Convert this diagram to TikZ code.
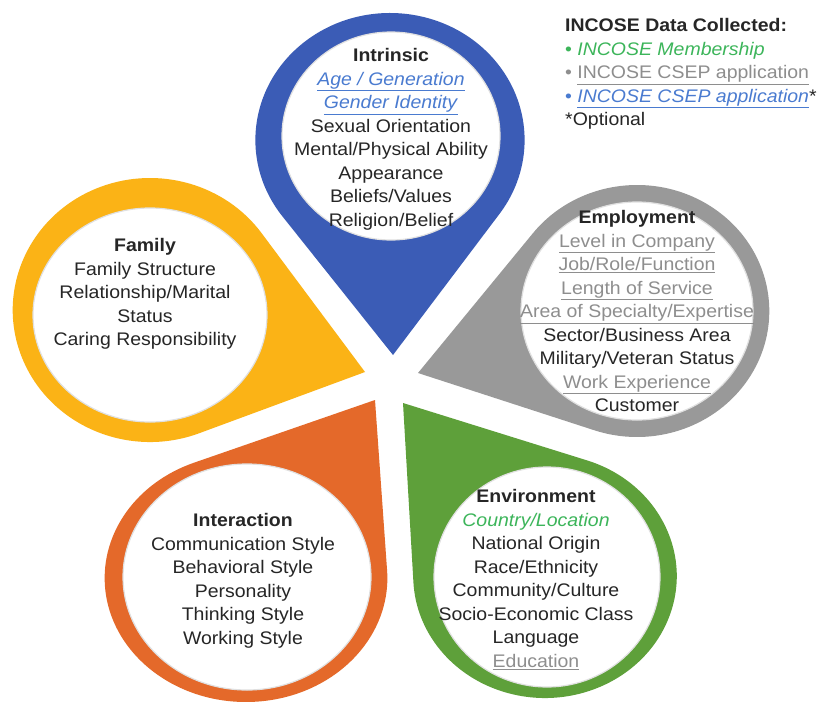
\documentclass[tikz,border=0pt]{standalone}
\usepackage{fontspec}
\setmainfont{Liberation Sans}[FakeStretch=1.07]
\definecolor{cblue}{HTML}{3B5CB6}
\definecolor{cgray}{HTML}{999999}
\definecolor{cyellow}{HTML}{FBB316}
\definecolor{corange}{HTML}{E4692A}
\definecolor{cgreen}{HTML}{5EA03A}
\definecolor{tblue}{HTML}{4A7BD0}
\definecolor{tgreen}{HTML}{3CB55A}
\definecolor{tgray}{HTML}{8E8E8E}
\definecolor{tdark}{HTML}{262626}
\newcommand\teardrop[7]{% color, cx, cy, Ry, xscale, tipx, tipy
  \begin{scope}[shift={(#2,#3)}, xscale=#5]
    \pgfmathsetmacro\tdx{(#6-#2)/#5}
    \pgfmathsetmacro\tdy{#7-#3}
    \pgfmathsetmacro\tth{atan2(\tdy,\tdx)}
    \pgfmathsetmacro\tdd{veclen(\tdx,\tdy)}
    \pgfmathsetmacro\tal{acos(#4/\tdd)}
    \pgfmathsetmacro\tsa{\tth+\tal}
    \pgfmathsetmacro\tea{\tth-\tal+360}
    \fill[#1] (\tdx,\tdy) -- (\tsa:#4) arc[start angle=\tsa, end angle=\tea, radius=#4] -- cycle;
  \end{scope}}
\newcommand\ul[1]{\underline{#1}}
\tikzset{
  blocktxt/.style={anchor=north, inner sep=0pt, align=center, text=tdark,
    font=\fontsize{18.2}{23.5}\selectfont},
  legendtxt/.style={anchor=north west, inner sep=0pt, align=left, text=tdark,
    font=\fontsize{18.2}{23.5}\selectfont},
  hole/.style={fill=white, draw=black!12, line width=1.2pt}
}
\begin{document}
\begin{tikzpicture}[x=1pt,y=-1pt]
\useasboundingbox (0,0) rectangle (832,704);
\fill[white] (0,0) rectangle (832,704);

% outer teardrops
\teardrop{cyellow}{150}{310}{132}{1.04}{365}{372}
\teardrop{corange}{246}{578}{124}{1.14}{375}{400}
\teardrop{cgreen}{545}{576}{122}{1.08}{403}{403}
\teardrop{cgray}{637}{311}{126}{1.05}{418}{373}
\teardrop{cblue}{390}{140}{127}{1.06}{393}{355}

% inner white holes
\path[hole] (391,136) ellipse [x radius=109, y radius=104];
\path[hole] (637,311) ellipse [x radius=116, y radius=109];
\path[hole] (150,315) ellipse [x radius=117, y radius=107];
\path[hole] (247,577) ellipse [x radius=124, y radius=113];
\path[hole] (547,577) ellipse [x radius=113, y radius=110];

% texts
\node[blocktxt] (intrinsic) at (391,48.5) {\textbf{Intrinsic}\\
  \textcolor{tblue}{\ul{\textit{Age / Generation}}}\\
  \textcolor{tblue}{\ul{\textit{Gender Identity}}}\\
  Sexual Orientation\\ Mental/Physical Ability\\ Appearance\\ Beliefs/Values\\ Religion/Belief};

\node[blocktxt] (employment) at (637,210.5) {\textbf{Employment}\\
  \textcolor{tgray}{\ul{Level in Company}}\\
  \textcolor{tgray}{\ul{Job/Role/Function}}\\
  \textcolor{tgray}{\ul{Length of Service}}\\
  \textcolor{tgray}{\ul{Area of Specialty/Expertise}}\\
  Sector/Business Area\\ Military/Veteran Status\\
  \textcolor{tgray}{\ul{Work Experience}}\\ Customer};

\node[blocktxt] (family) at (145,238.5) {\textbf{Family}\\ Family Structure\\
  Relationship/Marital\\ Status\\ Caring Responsibility};

\node[blocktxt] (interaction) at (243,513.5) {\textbf{Interaction}\\ Communication Style\\
  Behavioral Style\\ Personality\\ Thinking Style\\ Working Style};

\node[blocktxt] (environment) at (536,489.5) {\textbf{Environment}\\
  \textcolor{tgreen}{\textit{Country/Location}}\\ National Origin\\ Race/Ethnicity\\
  Community/Culture\\ Socio-Economic Class\\ Language\\
  \textcolor{tgray}{\ul{Education}}};

\node[legendtxt] (legend) at (565,18.5) {\textbf{INCOSE Data Collected:}\\
  \textcolor{tgreen}{\textbullet\ \textit{INCOSE Membership}}\\
  \textcolor{tgray}{\textbullet\ \ul{INCOSE CSEP application}}\\
  \textcolor{tblue}{\textbullet\ \ul{\textit{INCOSE CSEP application}}}*\\
  *Optional};
\end{tikzpicture}
\end{document}
